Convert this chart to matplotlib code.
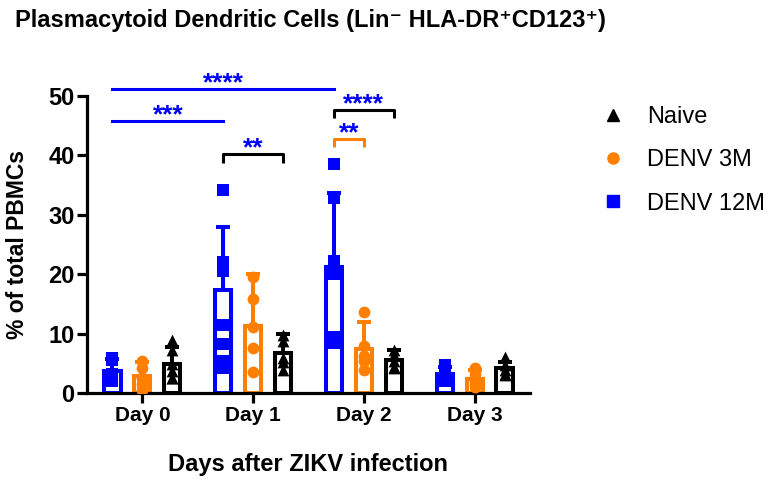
import matplotlib
matplotlib.use("Agg")
import matplotlib.pyplot as plt
from matplotlib.lines import Line2D
import numpy as np

plt.rcParams["font.family"] = ["Liberation Sans", "DejaVu Sans"]

days = ["Day 0", "Day 1", "Day 2", "Day 3"]

# group order left to right inside each day
groups = ["DENV 12M", "DENV 3M", "Naive"]
colors = {"DENV 12M": "#0000ff", "DENV 3M": "#ff8000", "Naive": "#000000"}
markers = {"DENV 12M": "s", "DENV 3M": "o", "Naive": "^"}
offsets = {"DENV 12M": -0.27, "DENV 3M": 0.0, "Naive": 0.27}

mean_12m = [3.8, 17.3, 21.2, 3.3]
mean_3m = [2.9, 11.4, 7.5, 2.4]
mean_naive = [5.0, 6.7, 5.6, 4.2]

sd_12m = [2.0, 10.7, 12.5, 1.2]
sd_3m = [2.4, 8.6, 4.5, 1.5]
sd_naive = [2.8, 3.3, 1.7, 1.1]

# individual donors
pts_12m = [[6.0, 5.6, 3.2, 2.5, 2.0],
           [34.2, 22.0, 20.5, 11.5, 8.3, 5.5, 4.2],
           [38.6, 32.8, 22.2, 20.0, 9.5, 8.5],
           [4.7, 4.2, 3.0, 2.6, 2.1]]
pts_3m = [[5.5, 4.2, 2.6, 1.5, 0.6],
          [19.5, 15.8, 11.2, 7.6, 3.6],
          [13.6, 8.0, 6.3, 5.5, 4.0],
          [4.3, 3.3, 2.0, 1.5, 1.0]]
pts_naive = [[9.0, 7.2, 5.0, 3.8, 2.5, 2.5],
             [9.8, 8.8, 6.0, 5.2, 4.0],
             [7.3, 6.5, 5.5, 4.5, 4.2],
             [6.1, 4.8, 4.0, 3.3, 3.0]]

means = {"DENV 12M": mean_12m, "DENV 3M": mean_3m, "Naive": mean_naive}
sds = {"DENV 12M": sd_12m, "DENV 3M": sd_3m, "Naive": sd_naive}
points = {"DENV 12M": pts_12m, "DENV 3M": pts_3m, "Naive": pts_naive}

# significance: (day a, group a, day b, group b, height, label, line colour, legs)
sig = [
    (0, "DENV 12M", 2, "DENV 12M", 51.2, "****", "#0000ff", False),
    (0, "DENV 12M", 1, "DENV 12M", 45.8, "***", "#0000ff", False),
    (1, "DENV 12M", 1, "Naive", 40.2, "**", "#000000", True),
    (2, "DENV 12M", 2, "DENV 3M", 42.8, "**", "#ff8000", True),
    (2, "DENV 12M", 2, "Naive", 47.7, "****", "#000000", True),
]

fig = plt.figure(figsize=(7.68, 4.8), dpi=100)
ax = fig.add_axes([87 / 768, 1 - 393.3 / 480, 443 / 768, 297.3 / 480])

x = np.arange(len(days))
lw = 2.9
for g in groups:
    xs = x + offsets[g]
    c = colors[g]
    ax.bar(xs, means[g], width=0.145, facecolor="white", edgecolor=c,
           linewidth=lw, zorder=2)
    ax.errorbar(xs, means[g], yerr=[np.zeros(len(days)), sds[g]], fmt="none",
                ecolor=c, elinewidth=lw, capsize=4.7, capthick=lw, zorder=3)
    for i, vals in enumerate(points[g]):
        ax.scatter(np.full(len(vals), xs[i]), vals, marker=markers[g], s=72,
                   color=c, linewidths=0, zorder=4)

for da, ga, db, gb, h, lab, c, legs in sig:
    x1 = da + offsets[ga]
    x2 = db + offsets[gb]
    if legs:
        ax.plot([x1, x1, x2, x2], [h - 1.4, h, h, h - 1.4], color=c, lw=2.2,
                clip_on=False, solid_capstyle="butt")
    else:
        ax.plot([x1, x2], [h, h], color=c, lw=2.2, clip_on=False)
    ax.text((x1 + x2) / 2, h - 0.2, lab, color="#0000ff", fontsize=19,
            fontweight="bold", ha="center", va="baseline")

ax.set_xlim(-0.5, 3.5)
ax.set_ylim(0, 50)
ax.set_yticks(range(0, 51, 10))
ax.set_xticks(x)
ax.set_xticklabels(days, fontsize=15, fontweight="bold")
for t in ax.get_yticklabels():
    t.set_fontsize(17)
    t.set_fontweight("bold")
ax.spines["top"].set_visible(False)
ax.spines["right"].set_visible(False)
ax.spines["left"].set_linewidth(2.3)
ax.spines["bottom"].set_linewidth(2.3)
ax.tick_params(width=2.3, length=7, pad=2)

ax.set_ylabel("% of total PBMCs", fontsize=16.5, fontweight="bold", labelpad=14)
ax.set_xlabel("Days after ZIKV infection", fontsize=17, fontweight="bold",
              labelpad=20)

fig.text(15 / 768, 1 - 21 / 480,
         "Plasmacytoid Dendritic Cells (Lin\u207b HLA-DR\u207aCD123\u207a)",
         fontsize=17, fontweight="bold", ha="left", va="center")

handles = [Line2D([], [], ls="none", marker=markers[g], color=colors[g],
                  markersize=8) for g in ["Naive", "DENV 3M", "DENV 12M"]]
ax.legend(handles, ["Naive", "DENV 3M", "DENV 12M"], loc="upper left",
          bbox_to_anchor=(601 / 768, 1 - 106 / 480),
          bbox_transform=fig.transFigure, frameon=False, fontsize=17,
          handlelength=1.0, handletextpad=0.95, labelspacing=0.9,
          borderpad=0, borderaxespad=0)

fig.savefig("out.png", dpi=100)
